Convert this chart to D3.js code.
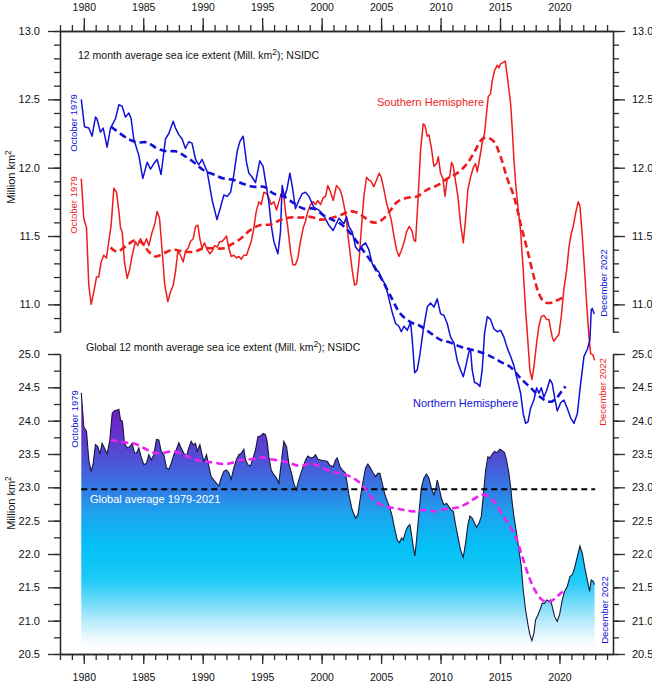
<!DOCTYPE html>
<html><head><meta charset="utf-8">
<script src="https://cdn.jsdelivr.net/npm/d3@7"></script>
<style>
html,body{margin:0;padding:0;background:#fff;}
svg{display:block;font-family:"Liberation Sans",Arial,sans-serif;}
</style></head>
<body>
<svg id="chart" width="652" height="685"></svg>
<script>
// ---------------- DATA ----------------
const nhSeries = [
[1979.79,12.50],[1980.06,12.30],[1980.42,12.29],[1980.7,12.23],[1980.98,12.37],[1981.1,12.36],[1981.4,12.26],[1981.63,12.29],[1981.96,12.15],[1982.25,12.29],[1982.67,12.36],[1982.95,12.46],[1983.23,12.45],[1983.5,12.37],[1983.79,12.40],[1983.98,12.36],[1984.2,12.21],[1984.63,12.09],[1984.96,11.92],[1985.33,12.04],[1985.61,11.99],[1985.89,12.03],[1986.17,12.06],[1986.5,11.95],[1986.87,12.21],[1987.15,12.25],[1987.52,12.34],[1987.71,12.29],[1988.0,12.24],[1988.27,12.21],[1988.55,12.14],[1988.83,12.19],[1989.1,12.18],[1989.4,12.06],[1989.67,12.02],[1989.95,12.06],[1990.38,11.97],[1990.8,11.76],[1991.2,11.62],[1991.5,11.71],[1991.78,11.80],[1992.06,11.79],[1992.34,11.82],[1992.62,11.95],[1992.9,12.12],[1993.12,12.19],[1993.4,12.23],[1993.68,12.04],[1993.88,11.96],[1994.16,11.93],[1994.44,11.89],[1994.8,12.05],[1995.08,12.01],[1995.28,11.90],[1995.56,11.75],[1995.76,11.58],[1995.98,11.46],[1996.32,11.37],[1996.54,11.53],[1996.68,11.87],[1996.88,11.78],[1997.1,11.85],[1997.33,11.96],[1997.52,11.87],[1997.8,11.70],[1998.08,11.76],[1998.37,11.81],[1998.65,11.82],[1998.93,11.79],[1999.35,11.71],[1999.77,11.69],[2000.19,11.65],[2000.6,11.58],[2000.97,11.54],[2001.45,11.63],[2001.87,11.59],[2002.1,11.64],[2002.29,11.57],[2002.57,11.53],[2002.85,11.42],[2003.13,11.39],[2003.41,11.43],[2003.69,11.45],[2003.97,11.40],[2004.25,11.30],[2004.53,11.25],[2004.8,11.24],[2005.1,11.18],[2005.38,11.14],[2005.66,11.04],[2005.94,10.94],[2006.22,10.86],[2006.5,10.84],[2006.7,10.80],[2006.92,10.84],[2007.2,10.81],[2007.48,10.87],[2007.62,10.74],[2007.82,10.50],[2008.04,10.52],[2008.26,10.63],[2008.54,10.81],[2008.88,10.98],[2009.16,11.01],[2009.44,10.98],[2009.72,11.04],[2010.0,10.93],[2010.28,10.92],[2010.56,10.86],[2010.84,10.76],[2011.12,10.72],[2011.4,10.59],[2011.68,10.52],[2011.91,10.47],[2012.1,10.54],[2012.38,10.65],[2012.52,10.67],[2012.66,10.52],[2012.86,10.43],[2013.08,10.42],[2013.31,10.40],[2013.5,10.52],[2013.7,10.79],[2013.93,10.91],[2014.2,10.89],[2014.49,10.82],[2014.77,10.80],[2015.05,10.81],[2015.33,10.76],[2015.61,10.68],[2015.89,10.62],[2016.17,10.55],[2016.45,10.45],[2016.73,10.35],[2016.95,10.20],[2017.15,10.13],[2017.35,10.14],[2017.57,10.24],[2017.85,10.30],[2018.08,10.39],[2018.27,10.35],[2018.47,10.39],[2018.69,10.32],[2018.92,10.37],[2019.2,10.45],[2019.39,10.42],[2019.59,10.32],[2019.81,10.22],[2020.1,10.28],[2020.37,10.30],[2020.65,10.24],[2020.94,10.17],[2021.22,10.13],[2021.5,10.20],[2021.78,10.42],[2022.06,10.62],[2022.34,10.67],[2022.56,10.74],[2022.67,10.96],[2022.76,10.97],[2022.92,10.93]
];
const nhSmooth = [
[1982.3,12.30],[1983.65,12.215],[1984.5,12.185],[1985.33,12.185],[1986.17,12.14],[1987.0,12.12],[1987.71,12.12],[1988.4,12.09],[1989.25,12.04],[1990.1,11.98],[1990.94,11.95],[1991.78,11.92],[1992.62,11.91],[1993.46,11.88],[1994.3,11.86],[1995.14,11.86],[1995.98,11.81],[1996.82,11.79],[1997.66,11.74],[1998.5,11.70],[1999.35,11.70],[2000.19,11.65],[2001.0,11.615],[2001.59,11.59],[2002.43,11.52],[2003.27,11.42],[2004.11,11.32],[2004.95,11.20],[2005.8,11.06],[2006.64,10.93],[2007.48,10.87],[2008.32,10.84],[2009.16,10.79],[2010.0,10.74],[2010.84,10.72],[2011.68,10.69],[2012.52,10.67],[2013.37,10.65],[2014.2,10.62],[2015.05,10.58],[2015.89,10.54],[2016.73,10.46],[2017.57,10.39],[2018.41,10.32],[2018.97,10.29],[2019.39,10.29],[2019.81,10.32],[2020.23,10.37],[2020.51,10.40]
];
const shSeries = [
[1979.79,11.92],[1980.0,11.63],[1980.23,11.56],[1980.42,11.14],[1980.62,11.00],[1980.84,11.09],[1981.07,11.20],[1981.26,11.20],[1981.46,11.31],[1981.68,11.36],[1981.91,11.34],[1982.1,11.46],[1982.3,11.58],[1982.53,11.85],[1982.75,11.82],[1982.95,11.68],[1983.09,11.56],[1983.23,11.53],[1983.42,11.31],[1983.65,11.19],[1983.87,11.26],[1984.07,11.36],[1984.35,11.46],[1984.54,11.43],[1984.77,11.48],[1985.05,11.43],[1985.27,11.48],[1985.47,11.43],[1985.75,11.53],[1985.95,11.58],[1986.17,11.68],[1986.37,11.63],[1986.59,11.39],[1986.81,11.14],[1987.07,11.02],[1987.29,11.09],[1987.52,11.14],[1987.71,11.24],[1987.91,11.39],[1988.13,11.36],[1988.36,11.31],[1988.55,11.39],[1988.78,11.41],[1988.97,11.46],[1989.2,11.48],[1989.4,11.57],[1989.59,11.58],[1989.76,11.48],[1989.95,11.41],[1990.15,11.45],[1990.38,11.40],[1990.6,11.37],[1990.8,11.39],[1990.99,11.43],[1991.22,11.42],[1991.44,11.46],[1991.64,11.46],[1991.83,11.48],[1992.0,11.50],[1992.2,11.41],[1992.4,11.35],[1992.62,11.36],[1992.84,11.34],[1993.04,11.35],[1993.24,11.33],[1993.46,11.36],[1993.68,11.36],[1993.88,11.41],[1994.08,11.46],[1994.3,11.56],[1994.5,11.68],[1994.72,11.75],[1994.92,11.73],[1995.14,11.82],[1995.37,11.81],[1995.56,11.78],[1995.76,11.73],[1995.98,11.75],[1996.21,11.69],[1996.4,11.75],[1996.6,11.81],[1996.77,11.83],[1996.96,11.68],[1997.16,11.56],[1997.38,11.39],[1997.58,11.29],[1997.8,11.29],[1998.0,11.34],[1998.22,11.46],[1998.45,11.56],[1998.65,11.61],[1998.84,11.68],[1999.07,11.73],[1999.29,11.75],[1999.49,11.73],[1999.68,11.76],[1999.91,11.73],[2000.13,11.78],[2000.33,11.79],[2000.52,11.87],[2000.75,11.82],[2000.97,11.76],[2001.25,11.87],[2001.54,11.84],[2001.73,11.79],[2002.0,11.67],[2002.29,11.45],[2002.57,11.25],[2002.77,11.14],[2002.94,11.15],[2003.13,11.30],[2003.33,11.54],[2003.55,11.79],[2003.78,11.93],[2003.97,11.91],[2004.17,11.90],[2004.39,11.86],[2004.62,11.91],[2004.84,11.96],[2005.01,11.93],[2005.24,11.84],[2005.46,11.74],[2005.66,11.68],[2005.85,11.62],[2006.08,11.50],[2006.3,11.40],[2006.5,11.35],[2006.69,11.39],[2006.92,11.45],[2007.14,11.53],[2007.37,11.57],[2007.59,11.54],[2007.76,11.47],[2007.9,11.46],[2008.1,11.76],[2008.32,12.13],[2008.54,12.32],[2008.68,12.31],[2008.88,12.23],[2009.02,12.24],[2009.22,12.15],[2009.44,12.01],[2009.67,12.03],[2009.81,12.08],[2010.0,11.96],[2010.2,11.92],[2010.37,11.79],[2010.56,11.92],[2010.76,11.93],[2010.93,12.04],[2011.07,12.01],[2011.26,11.90],[2011.46,11.79],[2011.68,11.59],[2011.91,11.45],[2012.1,11.62],[2012.3,11.84],[2012.52,11.93],[2012.75,12.00],[2012.94,12.03],[2013.09,11.97],[2013.31,12.08],[2013.5,12.18],[2013.7,12.25],[2013.87,12.40],[2014.01,12.52],[2014.2,12.54],[2014.35,12.64],[2014.54,12.71],[2014.77,12.75],[2014.91,12.73],[2015.05,12.76],[2015.27,12.77],[2015.44,12.78],[2015.61,12.67],[2015.75,12.57],[2015.89,12.47],[2016.03,12.28],[2016.17,12.06],[2016.31,11.89],[2016.51,11.71],[2016.73,11.54],[2016.95,11.25],[2017.15,10.96],[2017.35,10.72],[2017.51,10.52],[2017.68,10.45],[2017.85,10.54],[2018.08,10.72],[2018.27,10.84],[2018.47,10.91],[2018.69,10.92],[2018.92,10.89],[2019.11,10.89],[2019.25,10.82],[2019.39,10.76],[2019.53,10.73],[2019.76,10.76],[2019.95,10.78],[2020.15,10.91],[2020.37,11.11],[2020.6,11.25],[2020.8,11.42],[2020.99,11.52],[2021.16,11.57],[2021.36,11.67],[2021.58,11.75],[2021.72,11.72],[2021.92,11.50],[2022.11,11.25],[2022.28,11.01],[2022.48,10.76],[2022.62,10.64],[2022.81,10.63],[2022.95,10.59]
];
const shSmooth = [
[1982.25,11.416],[1982.8,11.385],[1983.65,11.435],[1984.35,11.47],[1984.9,11.45],[1985.47,11.385],[1986.03,11.35],[1986.73,11.375],[1987.57,11.40],[1988.4,11.385],[1989.25,11.385],[1990.1,11.41],[1990.94,11.41],[1991.78,11.41],[1992.34,11.435],[1993.18,11.48],[1994.02,11.545],[1994.86,11.58],[1995.7,11.585],[1996.54,11.617],[1997.38,11.635],[1998.22,11.635],[1999.07,11.64],[1999.91,11.62],[2000.75,11.63],[2001.59,11.654],[2002.43,11.68],[2003.0,11.67],[2003.55,11.64],[2004.11,11.605],[2004.67,11.60],[2005.24,11.63],[2005.8,11.69],[2006.36,11.75],[2007.2,11.78],[2008.04,11.79],[2008.88,11.84],[2009.72,11.87],[2010.56,11.92],[2011.4,11.96],[2012.24,12.03],[2012.94,12.13],[2013.5,12.21],[2013.93,12.22],[2014.49,12.19],[2015.05,12.08],[2015.61,11.92],[2016.17,11.79],[2016.73,11.59],[2017.29,11.40],[2017.85,11.20],[2018.27,11.08],[2018.69,11.02],[2019.25,11.01],[2019.81,11.03],[2020.51,11.06]
];
const globalSeries = [
[1979.79,24.42],[1980.0,23.91],[1980.23,23.84],[1980.42,23.41],[1980.62,23.24],[1980.79,23.36],[1980.98,23.64],[1981.18,23.61],[1981.35,23.50],[1981.54,23.66],[1981.74,23.59],[1981.96,23.50],[1982.19,23.71],[1982.39,24.11],[1982.58,24.15],[1982.81,24.16],[1982.95,24.17],[1983.09,24.01],[1983.25,23.99],[1983.42,23.66],[1983.65,23.59],[1983.87,23.61],[1984.07,23.66],[1984.26,23.52],[1984.43,23.51],[1984.63,23.59],[1984.82,23.46],[1985.05,23.34],[1985.27,23.36],[1985.47,23.49],[1985.67,23.41],[1985.89,23.49],[1986.11,23.72],[1986.31,23.71],[1986.51,23.54],[1986.73,23.49],[1986.96,23.29],[1987.15,23.27],[1987.35,23.36],[1987.57,23.49],[1987.77,23.56],[1987.99,23.67],[1988.19,23.59],[1988.41,23.51],[1988.64,23.47],[1988.83,23.59],[1989.03,23.69],[1989.2,23.64],[1989.4,23.66],[1989.53,23.54],[1989.76,23.64],[1989.95,23.49],[1990.1,23.39],[1990.32,23.49],[1990.52,23.31],[1990.71,23.16],[1990.94,23.11],[1991.16,23.06],[1991.36,23.02],[1991.55,23.14],[1991.78,23.24],[1992.0,23.26],[1992.2,23.22],[1992.39,23.12],[1992.62,23.29],[1992.84,23.42],[1993.04,23.49],[1993.24,23.51],[1993.46,23.57],[1993.6,23.41],[1993.8,23.34],[1994.02,23.32],[1994.24,23.44],[1994.44,23.56],[1994.64,23.76],[1994.86,23.77],[1995.09,23.81],[1995.28,23.79],[1995.42,23.69],[1995.56,23.46],[1995.76,23.26],[1995.98,23.19],[1996.21,23.14],[1996.4,23.06],[1996.6,23.36],[1996.82,23.69],[1997.05,23.61],[1997.24,23.36],[1997.47,23.21],[1997.66,23.06],[1997.86,22.96],[1998.0,23.06],[1998.22,23.19],[1998.45,23.31],[1998.65,23.41],[1998.84,23.47],[1999.07,23.44],[1999.29,23.45],[1999.49,23.49],[1999.68,23.42],[1999.91,23.41],[2000.19,23.40],[2000.47,23.39],[2000.69,23.33],[2000.97,23.31],[2001.17,23.41],[2001.31,23.44],[2001.54,23.31],[2001.73,23.26],[2002.01,23.21],[2002.29,22.89],[2002.57,22.66],[2002.85,22.54],[2003.05,22.59],[2003.27,22.86],[2003.5,23.11],[2003.69,23.29],[2003.89,23.35],[2004.11,23.29],[2004.34,23.21],[2004.53,23.16],[2004.73,23.21],[2004.9,23.21],[2005.1,23.06],[2005.29,22.91],[2005.52,22.79],[2005.74,22.69],[2005.94,22.56],[2006.13,22.39],[2006.36,22.21],[2006.55,22.17],[2006.72,22.24],[2006.86,22.21],[2007.06,22.34],[2007.25,22.41],[2007.42,22.44],[2007.56,22.29],[2007.7,22.11],[2007.84,21.97],[2007.98,22.21],[2008.18,22.61],[2008.38,22.99],[2008.6,23.14],[2008.82,23.20],[2009.02,23.14],[2009.22,22.99],[2009.44,22.89],[2009.58,22.96],[2009.72,23.11],[2009.86,23.01],[2010.06,22.84],[2010.28,22.74],[2010.51,22.76],[2010.7,22.71],[2010.9,22.66],[2011.07,22.64],[2011.26,22.44],[2011.46,22.26],[2011.68,22.06],[2011.91,21.95],[2012.1,22.16],[2012.3,22.44],[2012.47,22.57],[2012.66,22.54],[2012.86,22.46],[2013.03,22.40],[2013.23,22.46],[2013.42,22.56],[2013.59,22.86],[2013.79,23.26],[2013.98,23.46],[2014.15,23.44],[2014.35,23.50],[2014.54,23.54],[2014.77,23.52],[2014.99,23.57],[2015.19,23.55],[2015.38,23.52],[2015.55,23.41],[2015.75,23.21],[2015.89,23.01],[2016.03,22.76],[2016.17,22.56],[2016.39,22.31],[2016.59,22.06],[2016.79,21.81],[2016.95,21.46],[2017.15,21.16],[2017.35,20.94],[2017.51,20.79],[2017.68,20.70],[2017.85,20.81],[2017.99,21.01],[2018.19,21.09],[2018.36,21.16],[2018.55,21.26],[2018.75,21.26],[2018.92,21.31],[2019.11,21.29],[2019.25,21.31],[2019.39,21.21],[2019.59,21.06],[2019.81,20.99],[2020.01,21.09],[2020.23,21.31],[2020.43,21.44],[2020.65,21.51],[2020.88,21.66],[2021.08,21.69],[2021.27,21.79],[2021.5,21.96],[2021.72,22.12],[2021.92,22.01],[2022.11,21.81],[2022.34,21.61],[2022.53,21.44],[2022.67,21.61],[2022.84,21.59],[2022.95,21.54]
];
const globalSmooth = [
[1982.25,23.71],[1982.8,23.69],[1983.65,23.67],[1984.35,23.65],[1985.05,23.59],[1985.89,23.52],[1986.73,23.52],[1987.57,23.54],[1988.4,23.49],[1989.25,23.42],[1990.1,23.39],[1990.94,23.37],[1991.78,23.35],[1992.34,23.36],[1993.18,23.41],[1994.02,23.42],[1994.86,23.45],[1995.7,23.42],[1996.54,23.40],[1997.38,23.36],[1998.22,23.32],[1999.07,23.36],[1999.91,23.31],[2000.75,23.24],[2001.59,23.21],[2002.43,23.16],[2003.27,23.06],[2003.83,22.94],[2004.39,22.81],[2005.24,22.72],[2006.08,22.69],[2006.92,22.66],[2007.76,22.64],[2008.6,22.66],[2009.44,22.64],[2010.28,22.67],[2011.12,22.69],[2011.68,22.71],[2012.24,22.76],[2012.94,22.84],[2013.5,22.89],[2014.07,22.86],[2014.63,22.76],[2015.19,22.59],[2015.75,22.44],[2016.31,22.26],[2016.87,21.96],[2017.43,21.66],[2017.99,21.44],[2018.55,21.31],[2019.11,21.28],[2019.67,21.34],[2020.1,21.41],[2020.51,21.47]
];
const globalAverage = 22.97;
const globalAverageSpan = [1979.79, 2023.0];

const yearMajorTicks = d3.range(1980, 2021, 5);
const yearMinorTicks = d3.range(1978, 2025, 1);
const topMajorTicks = [11.0, 11.5, 12.0, 12.5, 13.0];
const topMinorTicks = d3.range(10.8, 13.001, 0.1).map(v => +v.toFixed(1));
const botMajorTicks = [20.5, 21.0, 21.5, 22.0, 22.5, 23.0, 23.5, 24.0, 24.5, 25.0];
const botMinorTicks = d3.range(20.5, 25.001, 0.25);

// gradient for the global fill (value -> colour)
const gradValues = [24.4, 23.9, 23.4, 23.0, 22.6, 22.1, 21.6, 21.3, 21.0, 20.75, 20.6];
const gradColors = ["#7a12c4", "#6a2cca", "#4e52d6", "#3478e2", "#1ca4ee", "#04c0f6", "#1ecbf7", "#6ad9f9", "#b6ebfc", "#eaf8fe", "#ffffff"];

// ---------------- DRAWING ----------------
const svg = d3.select("#chart");
const L = 60, R = 613;
const x = d3.scaleLinear().domain([1978, 2024.5]).range([L, R]);
const yTop = d3.scaleLinear().domain([10.8, 13.0]).range([331.7, 31]);
const yBot = d3.scaleLinear().domain([20.5, 25.0]).range([654, 354]);

const BLUE = "#1010d8", RED = "#ee1c1c", MAG = "#ee22ee", AX = "#2a2a2a";
const FONT = "Liberation Sans, Arial, sans-serif";

// gradient
const defs = svg.append("defs");
const grad = defs.append("linearGradient").attr("id", "gfill")
  .attr("gradientUnits", "userSpaceOnUse")
  .attr("x1", 0).attr("x2", 0)
  .attr("y1", yBot(gradValues[0])).attr("y2", yBot(gradValues[gradValues.length - 1]));
const gy0 = yBot(gradValues[0]), gy1 = yBot(gradValues[gradValues.length - 1]);
gradValues.forEach((v, i) => {
  grad.append("stop").attr("offset", ((yBot(v) - gy0) / (gy1 - gy0)).toFixed(4)).attr("stop-color", gradColors[i]);
});

// global area
const area = d3.area().x(d => x(d[0])).y0(yBot(20.5)).y1(d => yBot(d[1]));
svg.append("path").datum(globalSeries).attr("d", area).attr("fill", "url(#gfill)");
const gline = d3.line().x(d => x(d[0])).y(d => yBot(d[1]));
svg.append("path").datum(globalSeries).attr("d", gline)
  .attr("fill", "none").attr("stroke", "#141a3a").attr("stroke-width", 1.1);

// global average line
svg.append("line")
  .attr("x1", x(globalAverageSpan[0])).attr("x2", x(globalAverageSpan[1]))
  .attr("y1", yBot(globalAverage)).attr("y2", yBot(globalAverage))
  .attr("stroke", "#000").attr("stroke-width", 2).attr("stroke-dasharray", "6,4");

// magenta smooth
const smoothLineB = d3.line().x(d => x(d[0])).y(d => yBot(d[1])).curve(d3.curveCatmullRom);
svg.append("path").datum(globalSmooth).attr("d", smoothLineB)
  .attr("fill", "none").attr("stroke", MAG).attr("stroke-width", 2.6).attr("stroke-dasharray", "7,4");

// top panel lines
const lineT = d3.line().x(d => x(d[0])).y(d => yTop(d[1]));
const smoothLineT = d3.line().x(d => x(d[0])).y(d => yTop(d[1])).curve(d3.curveCatmullRom);
svg.append("path").datum(shSeries).attr("d", lineT)
  .attr("fill", "none").attr("stroke", RED).attr("stroke-width", 1.5).attr("stroke-linejoin", "round");
svg.append("path").datum(nhSeries).attr("d", lineT)
  .attr("fill", "none").attr("stroke", BLUE).attr("stroke-width", 1.5).attr("stroke-linejoin", "round");
svg.append("path").datum(shSmooth).attr("d", smoothLineT)
  .attr("fill", "none").attr("stroke", RED).attr("stroke-width", 2.6).attr("stroke-dasharray", "7,4");
svg.append("path").datum(nhSmooth).attr("d", smoothLineT)
  .attr("fill", "none").attr("stroke", BLUE).attr("stroke-width", 2.6).attr("stroke-dasharray", "7,4");

// axes
function styleAxis(g) {
  g.selectAll("path,line").attr("stroke", AX).attr("stroke-width", 1.3);
  g.selectAll("text").attr("fill", "#111").attr("font-family", FONT);
}
function addAxis(axisFn, scale, transform, major, minor, majSize, minSize, pad, fontSize, fmt) {
  const gMin = svg.append("g").attr("transform", transform)
    .call(axisFn(scale).tickValues(minor).tickSize(minSize).tickSizeOuter(0).tickFormat(""));
  styleAxis(gMin);
  const gMaj = svg.append("g").attr("transform", transform)
    .call(axisFn(scale).tickValues(major).tickSize(majSize).tickSizeOuter(0).tickPadding(pad).tickFormat(fmt));
  styleAxis(gMaj);
  gMaj.selectAll("text").attr("font-size", fontSize);
}
const fy = d3.format("d"), f1 = d3.format(".1f");
addAxis(d3.axisTop, x, `translate(0,31)`, yearMajorTicks, yearMinorTicks, 13, 6, 7, 10.5, fy);
addAxis(d3.axisBottom, x, `translate(0,654)`, yearMajorTicks, yearMinorTicks, 10, 6, 10, 10.5, fy);
addAxis(d3.axisLeft, yTop, `translate(${L},0)`, topMajorTicks, topMinorTicks, 12, 6, 8, 11, f1);
addAxis(d3.axisRight, yTop, `translate(${R},0)`, topMajorTicks, topMinorTicks, 12, 6, 7, 11, f1);
addAxis(d3.axisLeft, yBot, `translate(${L},0)`, botMajorTicks, botMinorTicks, 12, 6, 8, 11, f1);
addAxis(d3.axisRight, yBot, `translate(${R},0)`, botMajorTicks, botMinorTicks, 12, 6, 7, 11, f1);

// texts
function supText(xp, yp, before, after, size, color) {
  const t = svg.append("text").attr("x", xp).attr("y", yp).attr("font-size", size)
    .attr("fill", color).attr("font-family", FONT);
  t.append("tspan").text(before);
  t.append("tspan").attr("dy", -4).attr("font-size", size * 0.8).text("2");
  t.append("tspan").attr("dy", 4).text(after);
  return t;
}
supText(78, 59, "12 month average sea ice extent (Mill. km", "); NSIDC", 10.5, "#111");
supText(86, 351, "Global 12 month average sea ice extent (Mill. km", "); NSIDC", 10.5, "#111");

function txt(xp, yp, s, size, color, rot, anchor) {
  const t = svg.append("text").attr("font-size", size).attr("fill", color)
    .attr("font-family", FONT).attr("text-anchor", anchor || "start").text(s);
  if (rot) t.attr("transform", `translate(${xp},${yp}) rotate(-90)`);
  else t.attr("x", xp).attr("y", yp);
  return t;
}
txt(377, 106, "Southern Hemisphere", 11, RED);
txt(413, 407, "Northern Hemisphere", 11, BLUE);
txt(90, 503, "Global average 1979-2021", 11, "#ffffff");
txt(77, 123, "October 1979", 9.5, BLUE, true, "middle");
txt(77, 205, "October 1979", 9.5, RED, true, "middle");
txt(78, 419, "October 1979", 9.5, BLUE, true, "middle");
txt(607, 283, "December 2022", 9.5, BLUE, true, "middle");
txt(606, 392, "December 2022", 9.5, RED, true, "middle");
txt(607.5, 610, "December 2022", 9.5, BLUE, true, "middle");

function yLabel(cy) {
  const t = svg.append("text").attr("font-size", 11).attr("fill", "#111").attr("font-family", FONT)
    .attr("text-anchor", "middle").attr("transform", `translate(15,${cy}) rotate(-90)`);
  t.append("tspan").text("Million km");
  t.append("tspan").attr("dy", -4).attr("font-size", 8.5).text("2");
}
yLabel(177);
yLabel(503);
</script>
</body></html>
